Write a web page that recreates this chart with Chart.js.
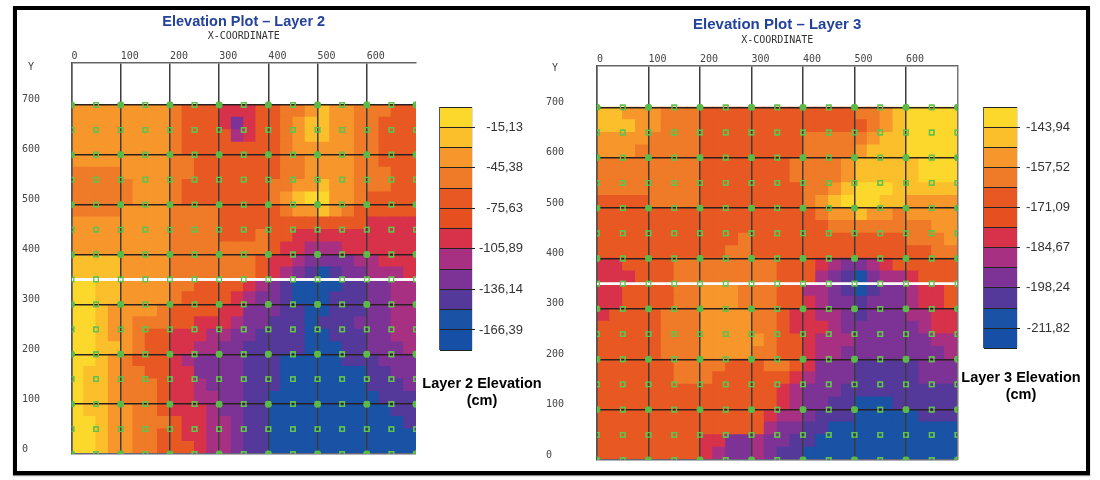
<!DOCTYPE html>
<html><head><meta charset="utf-8">
<script src="https://cdn.jsdelivr.net/npm/chart.js@4/dist/chart.umd.min.js"></script>
<style>
html,body{margin:0;padding:0;background:#fff;width:1100px;height:480px;overflow:hidden}
#frame{position:absolute;left:13px;top:6px;width:1077px;height:469px;box-sizing:border-box;border:4px solid #000;box-shadow:0 1px 1px #888}
canvas{position:absolute;filter:blur(.35px)}
</style></head><body>
<div id="frame"></div>
<canvas id="c2" width="430" height="470" style="left:0;top:0"></canvas>
<canvas id="c3" width="430" height="476" style="left:540px;top:0"></canvas>
<canvas id="l2" width="124" height="410" style="left:420px;top:0"></canvas>
<canvas id="l3" width="132" height="404" style="left:955px;top:0"></canvas>
<script>
const xCoordinates=[0,100,200,300,400,500,600,700];
const yCoordinates=[0,100,200,300,400,500,600,700];
const sampleCoordinates=[0,50,100,150,200,250,300,350,400,450,500,550,600,650,700];
const whiteLineY=350;
const bandColors=['#fdd82c','#fbbf2b','#f7962a','#ef7a27','#e85823','#e65020','#d8324a','#a83082','#7d3395','#54399b','#1a52a6','#1550a6'];
const layer2Edges=[0,-15.13,-30.25,-45.38,-60.5,-75.63,-90.76,-105.89,-121,-136.14,-151.27,-166.39,-181.5];
const layer3Edges=[-137.15,-143.94,-150.73,-157.52,-164.3,-171.09,-177.88,-184.67,-191.45,-198.24,-205.03,-211.82,-218.6];
const layer2Rows=[
[-38,-38,-38,-38,-38,-38,-38,-38,-53,-68,-68,-68,-98,-98,-98,-68,-68,-53,-53,-38,-23,-38,-38,-53,-53,-53,-68,-68],
[-38,-38,-38,-38,-38,-38,-38,-38,-53,-68,-68,-68,-98,-128,-98,-68,-68,-53,-38,-23,-23,-38,-38,-53,-53,-68,-68,-68],
[-38,-38,-38,-38,-38,-38,-38,-38,-53,-68,-68,-68,-68,-113,-98,-68,-68,-53,-38,-23,-23,-38,-38,-53,-53,-68,-68,-68],
[-38,-38,-38,-38,-38,-38,-38,-38,-53,-68,-68,-68,-68,-68,-68,-68,-68,-53,-38,-38,-38,-38,-38,-53,-53,-68,-68,-68],
[-38,-38,-38,-38,-38,-38,-38,-38,-53,-53,-68,-68,-68,-68,-68,-68,-68,-53,-53,-38,-38,-38,-38,-53,-53,-68,-68,-68],
[-53,-53,-53,-53,-38,-38,-38,-38,-53,-53,-68,-68,-68,-68,-68,-68,-68,-53,-53,-38,-38,-38,-38,-53,-53,-53,-68,-68],
[-53,-53,-53,-53,-53,-38,-38,-38,-53,-68,-68,-68,-68,-68,-68,-68,-53,-53,-38,-38,-23,-38,-38,-53,-53,-53,-68,-68],
[-53,-53,-53,-53,-53,-38,-38,-38,-53,-68,-68,-68,-68,-68,-68,-68,-53,-38,-23,-8,-8,-38,-38,-53,-68,-68,-68,-68],
[-53,-53,-53,-53,-38,-38,-38,-38,-53,-53,-53,-53,-68,-68,-68,-68,-68,-53,-38,-38,-23,-38,-53,-68,-68,-68,-68,-68],
[-38,-38,-38,-38,-38,-38,-38,-38,-53,-53,-53,-53,-68,-68,-68,-68,-68,-68,-68,-68,-68,-68,-68,-68,-98,-98,-98,-98],
[-38,-38,-38,-38,-38,-38,-38,-38,-53,-53,-53,-53,-68,-68,-68,-53,-68,-68,-98,-98,-98,-98,-98,-98,-98,-98,-98,-98],
[-38,-38,-38,-38,-38,-38,-38,-38,-53,-53,-53,-53,-53,-53,-53,-53,-68,-98,-98,-113,-113,-113,-98,-98,-98,-98,-98,-98],
[-23,-23,-23,-23,-38,-38,-38,-38,-53,-53,-53,-53,-53,-53,-53,-68,-98,-98,-113,-128,-128,-128,-128,-113,-113,-98,-98,-98],
[-23,-23,-23,-23,-38,-38,-38,-38,-53,-53,-53,-53,-53,-53,-53,-68,-98,-113,-128,-144,-159,-144,-128,-128,-113,-113,-113,-98],
[-8,-8,-23,-23,-38,-38,-38,-38,-53,-53,-68,-68,-68,-68,-98,-113,-128,-144,-159,-159,-159,-159,-144,-144,-128,-128,-113,-113],
[-8,-8,-23,-23,-38,-38,-38,-38,-53,-68,-68,-68,-68,-98,-113,-128,-128,-144,-159,-159,-159,-144,-144,-144,-128,-128,-113,-113],
[-8,-8,-23,-38,-38,-38,-38,-53,-68,-68,-68,-68,-98,-98,-128,-128,-128,-144,-144,-159,-159,-144,-144,-144,-128,-128,-113,-113],
[-8,-8,-23,-38,-38,-53,-53,-53,-68,-68,-98,-98,-98,-113,-128,-128,-144,-144,-144,-159,-144,-144,-144,-128,-128,-128,-113,-113],
[-8,-8,-23,-38,-38,-53,-68,-68,-98,-98,-98,-113,-113,-128,-128,-144,-144,-144,-144,-159,-159,-144,-144,-144,-128,-128,-113,-113],
[-8,-8,-23,-23,-38,-53,-68,-68,-98,-98,-113,-113,-128,-128,-144,-144,-144,-144,-144,-159,-159,-159,-144,-144,-128,-128,-128,-113],
[-8,-8,-23,-38,-53,-68,-68,-68,-98,-113,-128,-128,-128,-128,-144,-144,-144,-159,-159,-159,-159,-159,-144,-144,-144,-128,-128,-128],
[-8,-23,-23,-38,-53,-53,-68,-68,-98,-98,-128,-128,-128,-128,-144,-144,-144,-159,-159,-159,-159,-159,-159,-159,-144,-144,-128,-128],
[-8,-23,-23,-38,-53,-53,-53,-68,-98,-98,-113,-128,-128,-128,-144,-144,-144,-159,-159,-159,-159,-159,-159,-159,-144,-144,-144,-128],
[-8,-23,-23,-38,-53,-53,-53,-68,-98,-98,-113,-113,-128,-128,-144,-144,-159,-159,-159,-159,-159,-159,-159,-159,-159,-144,-144,-144],
[-8,-23,-23,-38,-38,-53,-53,-68,-98,-98,-98,-113,-128,-128,-144,-144,-159,-159,-159,-159,-159,-159,-159,-159,-159,-159,-144,-144],
[-8,-8,-23,-38,-38,-53,-53,-53,-68,-98,-98,-113,-113,-128,-144,-144,-159,-159,-159,-159,-159,-159,-159,-159,-159,-159,-159,-144],
[-8,-8,-23,-38,-38,-53,-53,-68,-68,-98,-98,-113,-113,-128,-144,-144,-159,-159,-159,-159,-159,-159,-159,-159,-159,-159,-159,-159],
[-8,-8,-23,-38,-38,-53,-53,-68,-68,-68,-98,-113,-113,-128,-144,-144,-159,-159,-159,-159,-159,-159,-159,-159,-159,-159,-159,-159]
];
const layer3Rows=[
[-147,-147,-154,-154,-154,-161,-161,-161,-168,-168,-168,-168,-168,-168,-168,-168,-168,-168,-168,-168,-161,-161,-154,-147,-141,-141,-141,-141],
[-147,-147,-147,-154,-154,-161,-161,-161,-168,-168,-168,-168,-168,-168,-168,-168,-168,-168,-168,-168,-168,-161,-154,-147,-141,-141,-141,-141],
[-154,-154,-154,-154,-161,-161,-161,-161,-168,-168,-168,-168,-168,-168,-168,-168,-161,-161,-161,-161,-161,-154,-147,-147,-141,-141,-141,-141],
[-154,-154,-154,-161,-161,-161,-161,-161,-168,-168,-168,-168,-168,-168,-168,-168,-161,-161,-161,-161,-154,-147,-147,-147,-141,-141,-141,-141],
[-161,-161,-161,-161,-161,-161,-161,-161,-168,-168,-168,-168,-168,-168,-168,-161,-161,-161,-161,-154,-147,-147,-147,-147,-147,-141,-141,-141],
[-161,-161,-161,-161,-161,-161,-161,-161,-168,-168,-168,-168,-168,-168,-168,-161,-161,-161,-161,-154,-147,-147,-147,-147,-147,-141,-141,-141],
[-161,-161,-161,-161,-161,-161,-161,-161,-168,-168,-168,-168,-168,-168,-168,-168,-161,-161,-154,-147,-141,-141,-141,-147,-147,-147,-147,-147],
[-168,-168,-168,-168,-161,-161,-161,-161,-168,-168,-168,-168,-168,-168,-168,-168,-161,-154,-147,-141,-141,-141,-147,-147,-154,-154,-154,-154],
[-168,-168,-168,-168,-168,-168,-168,-168,-168,-168,-168,-168,-168,-168,-168,-168,-168,-161,-154,-154,-147,-154,-154,-161,-154,-154,-154,-154],
[-168,-168,-168,-168,-168,-168,-168,-168,-168,-168,-168,-168,-168,-168,-168,-168,-168,-168,-161,-161,-161,-161,-161,-161,-161,-161,-154,-154],
[-168,-168,-168,-168,-168,-168,-168,-168,-168,-168,-168,-161,-168,-168,-168,-168,-168,-168,-168,-168,-168,-168,-168,-168,-161,-161,-161,-154],
[-168,-168,-168,-168,-168,-168,-168,-168,-168,-168,-161,-161,-168,-168,-168,-168,-168,-168,-168,-168,-168,-168,-168,-168,-168,-168,-161,-161],
[-181,-181,-168,-168,-168,-168,-161,-161,-161,-161,-161,-161,-161,-161,-168,-168,-168,-181,-188,-195,-195,-188,-181,-168,-168,-168,-168,-168],
[-181,-181,-181,-168,-168,-168,-161,-161,-161,-161,-161,-161,-161,-161,-168,-168,-168,-188,-195,-202,-209,-195,-188,-188,-181,-168,-168,-168],
[-181,-181,-168,-168,-168,-168,-161,-161,-154,-154,-154,-161,-161,-161,-168,-168,-188,-188,-195,-202,-209,-202,-195,-195,-188,-181,-181,-168],
[-181,-181,-168,-168,-168,-168,-161,-161,-154,-154,-154,-161,-161,-161,-168,-168,-181,-188,-195,-195,-202,-195,-195,-195,-188,-181,-181,-168],
[-181,-168,-168,-168,-168,-161,-161,-161,-154,-154,-154,-154,-161,-161,-168,-181,-181,-188,-188,-195,-202,-195,-195,-195,-188,-188,-181,-181],
[-168,-168,-168,-168,-168,-161,-161,-161,-154,-154,-154,-154,-161,-161,-168,-181,-181,-181,-188,-195,-195,-195,-195,-195,-195,-188,-181,-181],
[-168,-168,-168,-168,-168,-161,-161,-161,-154,-154,-154,-154,-154,-161,-168,-168,-181,-188,-188,-188,-195,-195,-195,-195,-195,-195,-188,-188],
[-168,-168,-168,-168,-168,-161,-161,-161,-154,-154,-154,-154,-161,-161,-168,-168,-181,-188,-188,-195,-195,-195,-195,-195,-195,-195,-195,-188],
[-168,-168,-168,-168,-168,-168,-161,-161,-161,-161,-168,-168,-168,-161,-161,-168,-181,-195,-195,-195,-202,-202,-202,-202,-202,-195,-195,-195],
[-168,-168,-168,-168,-168,-168,-161,-161,-161,-168,-168,-168,-168,-168,-168,-181,-188,-195,-195,-195,-202,-202,-202,-202,-202,-195,-195,-195],
[-168,-168,-168,-168,-168,-168,-168,-168,-168,-168,-168,-168,-168,-168,-181,-188,-195,-195,-195,-202,-202,-202,-202,-202,-202,-202,-202,-202],
[-168,-168,-168,-168,-168,-168,-168,-168,-168,-168,-168,-168,-168,-168,-181,-188,-195,-195,-202,-202,-209,-209,-209,-202,-202,-202,-202,-202],
[-168,-168,-168,-168,-168,-168,-168,-168,-168,-168,-168,-168,-168,-181,-188,-188,-195,-202,-202,-202,-209,-209,-209,-209,-209,-202,-202,-202],
[-168,-168,-168,-168,-168,-168,-168,-168,-168,-168,-168,-168,-168,-188,-195,-195,-202,-202,-209,-209,-209,-209,-209,-209,-209,-209,-209,-209],
[-168,-168,-168,-168,-168,-168,-168,-168,-181,-181,-195,-195,-188,-195,-195,-202,-202,-209,-209,-209,-209,-209,-209,-209,-209,-209,-209,-209],
[-168,-168,-168,-168,-168,-168,-168,-168,-181,-188,-195,-195,-188,-195,-202,-202,-209,-209,-209,-209,-209,-209,-209,-209,-209,-209,-209,-209]
];
const CELL=25, TOP=700;
const mono='"DejaVu Sans Mono", monospace';
const bandOf=(v,edges)=>{for(let i=0;i<edges.length-1;i++){if(v>edges[i+1])return i;}return edges.length-2;};
const drawPointsOnTop={id:'pointsOnTop',afterDraw(chart){
  const a=chart.chartArea,ctx=chart.ctx;ctx.save();ctx.beginPath();ctx.rect(a.left,a.top,a.width,a.height);ctx.clip();
  chart.data.datasets.forEach((d,i)=>{if(d.onTop)chart.getDatasetMeta(i).controller.draw();});ctx.restore();}};

function heatmap(id,rows,edges,g){
  const cells=[];
  rows.forEach((row,r)=>row.forEach((v,c)=>cells.push({x:c*CELL+CELL/2,y:[TOP-(r+1)*CELL,TOP-r*CELL],v})));
  const nodes=[],samples=[];
  sampleCoordinates.forEach(x=>sampleCoordinates.forEach(y=>{(x%100===0&&y%100===0?nodes:samples).push({x,y});}));
  return new Chart(document.getElementById(id),{
    data:{datasets:[
      {type:'bar',data:cells,order:3,backgroundColor:c=>bandColors[bandOf(c.raw.v,edges)],barPercentage:1,categoryPercentage:1,inflateAmount:.6,borderWidth:0},
      {type:'line',onTop:true,data:[{x:0,y:whiteLineY},{x:700,y:whiteLineY}],borderColor:'#fff',borderWidth:2.5,pointRadius:0,order:2},
      {type:'scatter',onTop:true,data:samples,pointStyle:'rect',pointRadius:3.2,pointBorderColor:'#62c24c',pointBackgroundColor:'rgba(0,0,0,0)',pointBorderWidth:1.3,order:1},
      {type:'scatter',onTop:true,data:nodes,pointStyle:'circle',pointRadius:3.4,pointBorderColor:'#5cbb48',pointBackgroundColor:'#5cbb48',pointBorderWidth:0,order:0}
    ]},
    plugins:[drawPointsOnTop],
    options:{responsive:false,animation:false,
      layout:{padding:{left:g.left,right:g.right,top:0,bottom:g.bottom}},
      plugins:{legend:{display:false},tooltip:{enabled:false},
        title:{display:true,text:g.title,color:'#23429c',fullSize:false,font:{family:'"Liberation Sans",Arial,sans-serif',size:g.titleSize,weight:'bold'},padding:{top:g.titleTop,bottom:0}}},
      scales:{
        x:{type:'linear',position:'top',offset:false,min:0,max:700,
          afterBuildTicks:s=>{s.ticks=xCoordinates.map(value=>({value}));},
          afterFit:s=>{s.height=g.xHeight;},
          title:{display:true,text:'X-COORDINATE',color:'#333',font:{family:mono,size:10},padding:{top:0,bottom:0}},
          ticks:{align:'start',autoSkip:false,maxRotation:0,color:'#444',font:{family:mono,size:10},padding:1,callback:v=>v===700?'':String(v)},
          grid:{z:1,offset:false,lineWidth:1.5,drawTicks:false,color:c=>(c.tick&&c.tick.value===700&&!g.rightLine)?'rgba(0,0,0,0)':(c.tick&&c.tick.value===700?'#777':'#3c3c3c')},
          border:{display:true,z:1,color:'#666',width:1.6}},
        y:{type:'linear',position:'left',offset:false,min:0,max:g.yMax,
          afterBuildTicks:s=>{s.ticks=yCoordinates.map(value=>({value})).concat([{value:g.yLabelAt}]);},
          afterFit:s=>{s.width=g.yWidth;},
          ticks:{crossAlign:'far',autoSkip:false,color:'#444',font:{family:mono,size:10},labelOffset:-5,callback:v=>v===g.yLabelAt?' Y':String(v)},
          grid:{z:1,offset:false,lineWidth:1.4,drawTicks:false,color:c=>(c.tick&&c.tick.value===g.yLabelAt)?'rgba(0,0,0,0)':(c.tick&&c.tick.value===0?'#667':'#2a2020')},
          border:{display:true,z:1,color:'#555',width:1.4}}
      }}
  });
}
function colorbar(id,edges,g){
  const bands=edges.slice(0,-1).map((hi,i)=>({x:'band',y:[edges[i+1],hi]}));
  const spacer=w=>({type:'linear',display:true,position:w.pos,afterFit:s=>{s.width=w.width;},ticks:{display:false},grid:{display:false},border:{display:false}});
  return new Chart(document.getElementById(id),{
    type:'bar',
    data:{labels:['band'],datasets:bands.map((b,i)=>({xAxisID:'x',yAxisID:'y',data:[b],backgroundColor:bandColors[i],grouped:false,barPercentage:1,categoryPercentage:1,borderWidth:0,inflateAmount:0}))},
    options:{responsive:false,animation:false,
      layout:{padding:{left:0,right:0,top:g.top,bottom:0}},
      plugins:{legend:{display:false},tooltip:{enabled:false},
        title:{display:true,position:'bottom',text:g.caption,color:'#000',font:{family:'"Liberation Sans",Arial,sans-serif',size:14.5,weight:'bold',lineHeight:1.2},padding:{top:g.captionPad,bottom:0}}},
      scales:{
        x:{display:true,afterFit:s=>{s.height=0;},ticks:{display:false},grid:{drawTicks:false,color:'#556',lineWidth:1.2},border:{display:false}},
        padLeft:spacer({pos:'left',width:g.left}),
        y:{type:'linear',position:'right',min:edges[edges.length-1],max:edges[0],
          afterBuildTicks:s=>{s.ticks=edges.map(value=>({value}));},
          afterFit:s=>{s.width=g.axisWidth;},
          ticks:{crossAlign:'far',autoSkip:false,color:'#333',padding:2,font:{family:'"Liberation Sans",sans-serif',size:13},
            callback:(v,i)=>i%2===1?v.toFixed(2).replace('.',','):''},
          grid:{z:1,lineWidth:1,tickLength:3,color:'#222',tickColor:c=>(c.index%2===1)?'#222':'rgba(0,0,0,0)'},
          border:{display:false}},
        padRight:spacer({pos:'right',width:g.right})
      }}
  });
}
heatmap('c2',layer2Rows,layer2Edges,{title:'Elevation Plot – Layer 2',titleSize:14.5,left:22,right:14,bottom:16,titleTop:13,xHeight:32.6,yWidth:49.5,yMax:784,yLabelAt:766,rightLine:false});
heatmap('c3',layer3Rows,layer3Edges,{title:'Elevation Plot – Layer 3',titleSize:15,left:6,right:12.5,bottom:16,titleTop:16,xHeight:32,yWidth:51,yMax:782,yLabelAt:767,rightLine:true});
colorbar('l2',layer2Edges,{left:20,right:21,top:107,axisWidth:51,caption:['Layer 2 Elevation','(cm)'],captionPad:25});
colorbar('l3',layer3Edges,{left:29,right:17,top:107,axisWidth:53,caption:['Layer 3 Elevation','(cm)'],captionPad:21});
</script>
</body></html>
